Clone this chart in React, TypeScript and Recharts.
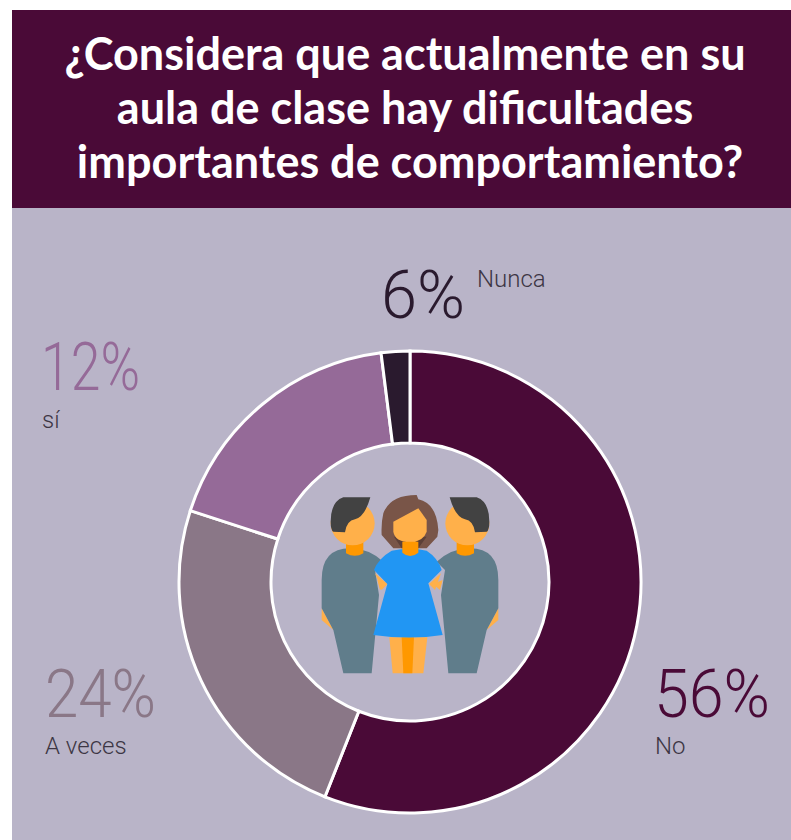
import { PieChart, Pie, Cell } from 'recharts';

const titleLines = [
  '¿Considera que actualmente en su',
  'aula de clase hay dificultades',
  'importantes de comportamiento?',
];
const titleCenters = [405, 405, 410];

const categories = ['No', 'A veces', 'sí', 'Nunca'];
// slice sizes as drawn in the picture, the printed percentages differ for the two small ones
const sliceValues = [56, 24, 18, 2];
const printedValues = ['56%', '24%', '12%', '6%'];

const sliceColors = ['#4a0a37', '#8a7787', '#956a98', '#2a1a2e'];
const pctColors = ['#4a0a37', '#8a7787', '#956a98', '#2a1a2e'];

const pieData = categories.map((name, i) => ({ name, value: sliceValues[i] }));

// where each label block sits, in page pixels
const spots = [
  { pctX: 654, pctY: 717, pctW: 116, nameX: 655, nameY: 754 },
  { pctX: 45, pctY: 717, pctW: 111, nameX: 45, nameY: 754 },
  { pctX: 41, pctY: 390, pctW: 99, nameX: 42, nameY: 428 },
  { pctX: 381, pctY: 318, pctW: 84, nameX: 477, nameY: 287 },
];

const labelFont = "Roboto, 'Noto Sans', sans-serif";

function PeopleIcon() {
  const man = (
    <g>
      <path d="M65 385 L100 450 L65 420 Z" fill="#ffb04a" />
      <path d="M232 300 L262 312 L240 330 Z" fill="#ffb04a" />
      <path
        d="M65 300 Q65 205 150 205 Q205 205 250 245 L225 270 L237 345 L215 580 L130 580 L100 450 L65 385 Z"
        fill="#607d8b"
      />
      <path d="M138 185 L190 185 L190 220 Q165 235 138 220 Z" fill="#ff9800" />
      <circle cx="158" cy="130" r="66" fill="#ffb04a" />
      <path
        d="M211 52 L130 52 Q92 65 92 125 Q92 150 100 155 L135 157 Q140 122 165 118 Q195 110 211 52 Z"
        fill="#424242"
      />
    </g>
  );
  return (
    <svg
      viewBox="0 0 660 630"
      width={220}
      height={210}
      style={{ position: 'absolute', left: 300, top: 480 }}
    >
      {man}
      <g transform="translate(660 0) scale(-1 1)">{man}</g>
      <path d="M250 100 Q270 45 350 45 L355 58 Q410 70 415 150 L412 170 L380 205 L280 205 L245 165 Q243 130 250 100 Z" fill="#795548" />
      <path d="M282 170 L305 205 L355 205 L380 170 Z" fill="#5d4037" />
      <path d="M280 125 L355 85 L380 120 L380 155 Q370 185 330 187 Q285 185 280 155 Z" fill="#ffb04a" />
      <path d="M268 472 L382 472 L370 580 L278 580 Z" fill="#ffb04a" />
      <path d="M305 472 L342 472 L337 580 L310 580 Z" fill="#ff9800" />
      <path d="M225 280 L262 312 L245 330 Z" fill="#ffb04a" />
      <path d="M423 280 L387 312 L405 330 Z" fill="#ffb04a" />
      <path d="M275 212 Q330 200 380 212 Q415 235 425 270 L385 310 L428 465 Q330 480 220 465 L262 312 L222 270 Q235 235 275 212 Z" fill="#2196f3" />
      <path d="M307 185 L355 185 L355 218 Q330 238 307 218 Z" fill="#ff9800" />
    </svg>
  );
}

export default function App() {
  return (
    <div style={{ position: 'absolute', left: 0, top: 0, width: 791, height: 840, background: '#fff', overflow: 'hidden' }}>
      <div style={{ position: 'absolute', left: 12, top: 10, width: 779, height: 198, background: '#4a0a37' }} />
      <div style={{ position: 'absolute', left: 12, top: 208, width: 779, height: 632, background: '#b9b4c8' }} />

      <div style={{ position: 'absolute', left: 12, top: 208 }}>
        <PieChart width={779} height={632} margin={{ top: 0, right: 0, bottom: 0, left: 0 }}>
          <Pie
            data={pieData}
            dataKey="value"
            nameKey="name"
            cx={398}
            cy={374}
            outerRadius={231}
            innerRadius={139}
            startAngle={90}
            endAngle={-270}
            stroke="#ffffff"
            strokeWidth={3}
            isAnimationActive={false}
          >
            {pieData.map((d, i) => (
              <Cell key={d.name} fill={sliceColors[i]} />
            ))}
          </Pie>
        </PieChart>
      </div>

      <PeopleIcon />

      <svg width={791} height={840} style={{ position: 'absolute', left: 0, top: 0, pointerEvents: 'none' }}>
        {titleLines.map((line, i) => (
          <text
            key={line}
            x={titleCenters[i]}
            y={70 + i * 54}
            textAnchor="middle"
            fill="#ffffff"
            fontFamily="Lato, sans-serif"
            fontWeight={700}
            fontSize={45}
          >
            {line}
          </text>
        ))}
        {categories.map((name, i) => (
          <g key={name}>
            <text
              x={spots[i].pctX}
              y={spots[i].pctY}
              fill={pctColors[i]}
              fontFamily={labelFont}
              fontWeight={300}
              fontSize={66}
              textLength={spots[i].pctW}
              lengthAdjust="spacingAndGlyphs"
            >
              {printedValues[i]}
            </text>
            <text x={spots[i].nameX} y={spots[i].nameY} fill="#3d3644" fontFamily={labelFont} fontWeight={300} fontSize={24}>
              {name}
            </text>
          </g>
        ))}
      </svg>
    </div>
  );
}
